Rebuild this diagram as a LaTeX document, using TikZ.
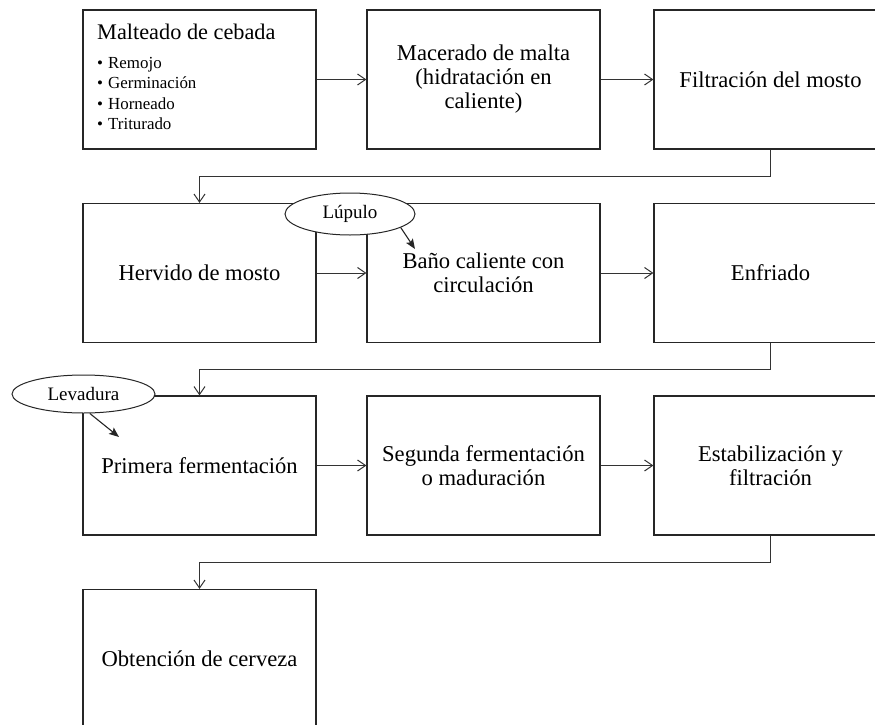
\documentclass[tikz,border=0pt]{standalone}
\usepackage{fontspec}
\setmainfont{Liberation Serif}
\usetikzlibrary{shapes.geometric,arrows.meta}
\begin{document}
\begin{tikzpicture}[x=1pt,y=-1pt,
  box/.style={draw=black!85, line width=1.2pt, minimum width=233pt, minimum height=139pt,
    inner sep=0pt, align=center, text=black, font=\fontsize{22.6}{24}\selectfont},
  ell/.style={ellipse, draw=black!85, line width=1pt, fill=white, inner sep=0pt,
    text=black, font=\fontsize{19}{19}\selectfont},
  conn/.style={draw=black!80, line width=1pt, -{Straight Barb[length=8pt,width=11pt]}},
  earrow/.style={draw=black!85, line width=1.1pt, -{Stealth[length=10pt,width=8pt,inset=2pt]}},
  titletxt/.style={anchor=base west, inner sep=0pt, text=black, font=\fontsize{22.3}{24}\selectfont},
  itemtxt/.style={anchor=base west, inner sep=0pt, text=black, font=\fontsize{16.9}{20}\selectfont}
]
\useasboundingbox (0,0) rectangle (875,725);
\clip (0,0) rectangle (875,725);

% row 1
\node[box] (m1) at (199.5,79.5) {};
\node[box] (m2) at (483.5,79.5) {Macerado de malta\\(hidratación en\\caliente)};
\node[box] (m3) at (770.5,79.5) {Filtración del mosto};
\node[titletxt] (t1) at (97,40) {Malteado de cebada};
\node[itemtxt] (i1) at (97,68) {\makebox[11pt][l]{•}Remojo};
\node[itemtxt] (i2) at (97,88.5) {\makebox[11pt][l]{•}Germinación};
\node[itemtxt] (i3) at (97,109) {\makebox[11pt][l]{•}Horneado};
\node[itemtxt] (i4) at (97,129) {\makebox[11pt][l]{•}Triturado};

% row 2
\node[box] (h1) at (199.5,273) {Hervido de mosto};
\node[box] (h2) at (483.5,273) {Baño caliente con\\circulación};
\node[box] (h3) at (770.5,273) {Enfriado};

% row 3
\node[box] (f1) at (199.5,465.5) {Primera fermentación};
\node[box] (f2) at (483.5,465.5) {Segunda fermentación\\o maduración};
\node[box] (f3) at (770.5,465.5) {Estabilización y\\filtración};

% row 4
\node[box] (o1) at (199.5,659) {Obtención de cerveza};

% horizontal arrows
\draw[conn] (m1.east) -- (m2.west);
\draw[conn] (m2.east) -- (m3.west);
\draw[conn] (h1.east) -- (h2.west);
\draw[conn] (h2.east) -- (h3.west);
\draw[conn] (f1.east) -- (f2.west);
\draw[conn] (f2.east) -- (f3.west);

% return connectors
\draw[conn] (m3.south) -- ++(0,27) -| (h1.north);
\draw[conn] (h3.south) -- ++(0,26.5) -| (f1.north);
\draw[conn] (f3.south) -- ++(0,27) -| (o1.north);

% ellipses
\node[ell, minimum width=130pt, minimum height=42pt] (lup) at (350,214) {Lúpulo};
\node[ell, minimum width=143pt, minimum height=38pt] (lev) at (83.5,394) {Levadura};
\coordinate (lupend) at (415,249);
\coordinate (levend) at (119,437);
\draw[earrow] (lup.-15) -- (lupend);
\draw[earrow] (lev.-72) -- (levend);
\end{tikzpicture}
\end{document}
